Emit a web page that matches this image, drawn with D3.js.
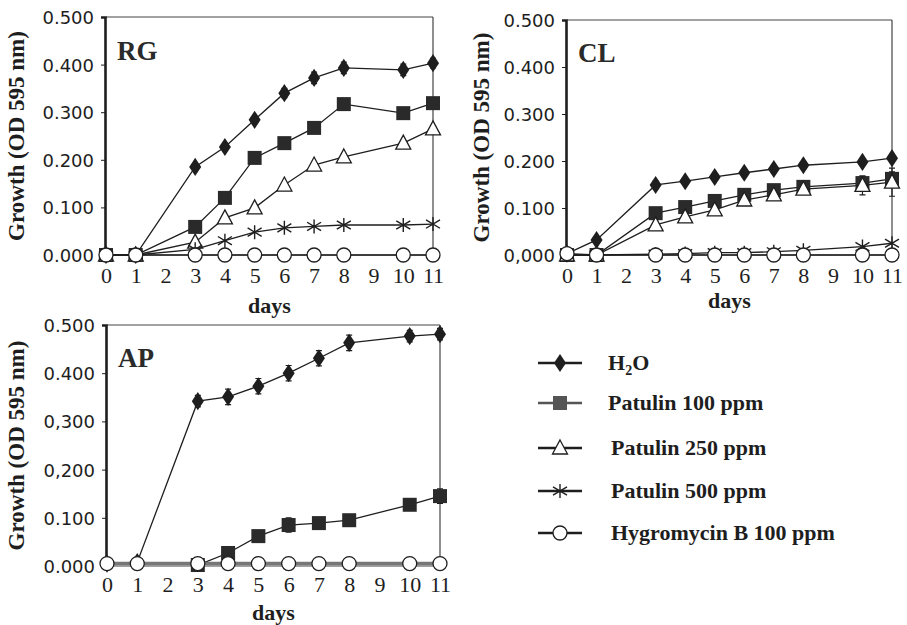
<!DOCTYPE html>
<html>
<head>
<meta charset="utf-8">
<script src="https://cdn.jsdelivr.net/npm/d3@7"></script>
<style>
  body { margin: 0; background: #fff; }
  svg { display: block; }
</style>
</head>
<body>
<script>
// sampling days (no reading on day 2 or 9)
var days = [0, 1, 3, 4, 5, 6, 7, 8, 10, 11];
var xTicks = [0, 1, 2, 3, 4, 5, 6, 7, 8, 9, 10, 11];
var yTicks = [0, 0.1, 0.2, 0.3, 0.4, 0.5];
var rgYLabels = ['0.000', '0.100', '0.200', '0.300', '0.400', '0.500'];
var clYLabels = ['0,000', '0.100', '0.200', '0.300', '0.400', '0.500'];
var apYLabels = ['0.000', '0.100', '0,200', '0,300', '0.400', '0.500'];
var seriesNames = ['H2O', 'Patulin 100 ppm', 'Patulin 250 ppm', 'Patulin 500 ppm', 'Hygromycin B 100 ppm'];

// RG
var rgH2O    = [0, 0, 0.185, 0.227, 0.284, 0.340, 0.372, 0.393, 0.389, 0.403];
var rgPat100 = [0, 0, 0.059, 0.120, 0.204, 0.235, 0.267, 0.317, 0.298, 0.319];
var rgPat250 = [0, 0, 0.027, 0.078, 0.099, 0.147, 0.189, 0.206, 0.235, 0.265];
var rgPat500 = [0, 0, 0.012, 0.030, 0.048, 0.057, 0.060, 0.063, 0.063, 0.065];
var rgHyg    = [0, 0, 0, 0, 0, 0, 0, 0, 0, 0];
var rgH2OErr = [0, 0, 0.005, 0.005, 0.006, 0.010, 0.012, 0.012, 0.012, 0.010];

// CL
var clH2O    = [0.003, 0.032, 0.149, 0.157, 0.166, 0.175, 0.183, 0.191, 0.198, 0.206];
var clPat100 = [0, 0, 0.089, 0.102, 0.115, 0.128, 0.138, 0.145, 0.153, 0.162];
var clPat250 = [0, 0, 0.064, 0.081, 0.096, 0.117, 0.128, 0.140, 0.148, 0.155];
var clPat500 = [0, 0, 0.002, 0.003, 0.005, 0.005, 0.007, 0.010, 0.018, 0.025];
var clHyg    = [0.003, 0, 0, 0, 0, 0, 0, 0, 0, 0];
var clH2OErr    = [0, 0.004, 0.008, 0.006, 0.006, 0.006, 0.006, 0.006, 0.006, 0.008];
var clPat100Err = [0, 0, 0, 0, 0, 0, 0, 0, 0.015, 0.015];
var clPat250Err = [0, 0, 0, 0, 0, 0, 0, 0, 0.020, 0.030];

// AP
var apH2O    = [0.005, 0.008, 0.342, 0.351, 0.373, 0.400, 0.431, 0.463, 0.477, 0.481];
var apPat100 = [null, null, 0.002, 0.027, 0.062, 0.085, 0.089, 0.095, 0.127, 0.145];
var apHyg    = [0.005, 0.005, 0.005, 0.005, 0.005, 0.005, 0.005, 0.005, 0.005, 0.005];
var apH2OErr    = [0, 0, 0.012, 0.016, 0.016, 0.016, 0.016, 0.016, 0.012, 0.012];
var apPat100Err = [0, 0, 0, 0.012, 0.010, 0.015, 0, 0, 0.008, 0.015];

var serif = "'Liberation Serif', 'Times New Roman', serif";
var sans = "'DejaVu Sans', sans-serif";
var ink = '#1e1e1e';

var svg = d3.select('body').append('svg').attr('width', 907).attr('height', 625);

// marker shapes, one per series (index matches seriesNames)
function marker(g, kind, x, y, legend) {
  if (kind === 0) {
    g.append('path').attr('d', d3.symbol(d3.symbolDiamond, 95)()).attr('transform', 'translate(' + x + ',' + y + ') scale(1.15,1)')
      .attr('fill', ink);
  } else if (kind === 1) {
    g.append('rect').attr('x', x - 7).attr('y', y - 7).attr('width', 14).attr('height', 14)
      .attr('fill', legend ? '#555' : '#2a2a2a');
  } else if (kind === 2) {
    g.append('path').attr('d', 'M' + x + ',' + (y - 8) + 'L' + (x + 7.5) + ',' + (y + 6) + 'L' + (x - 7.5) + ',' + (y + 6) + 'Z')
      .attr('fill', '#fff').attr('stroke', ink).attr('stroke-width', 1.3);
  } else if (kind === 3) {
    var s = 7;
    g.append('path').attr('d', 'M' + x + ',' + (y - s) + 'V' + (y + s) +
      'M' + (x - s) + ',' + (y - s * 0.6) + 'L' + (x + s) + ',' + (y + s * 0.6) +
      'M' + (x - s) + ',' + (y + s * 0.6) + 'L' + (x + s) + ',' + (y - s * 0.6))
      .attr('stroke', ink).attr('stroke-width', 1.4).attr('fill', 'none');
  } else {
    g.append('circle').attr('cx', x).attr('cy', y).attr('r', 7)
      .attr('fill', '#fff').attr('stroke', ink).attr('stroke-width', 1.3);
  }
}

function panel(opt) {
  var x = d3.scaleLinear().domain([0, 11]).range([opt.x0, opt.x1]);
  var y = d3.scaleLinear().domain([0, 0.5]).range([opt.y0, opt.y1]);
  var g = svg.append('g');

  // plot frame (top / right thin, left axis heavy)
  g.append('line').attr('x1', x(0)).attr('x2', x(11)).attr('y1', y(0.5)).attr('y2', y(0.5))
    .attr('stroke', '#444').attr('stroke-width', 1.2);
  g.append('line').attr('x1', x(11)).attr('x2', x(11)).attr('y1', y(0.5)).attr('y2', y(0))
    .attr('stroke', '#444').attr('stroke-width', 1.2);
  g.append('line').attr('x1', x(0)).attr('x2', x(11)).attr('y1', y(0)).attr('y2', y(0))
    .attr('stroke', '#444').attr('stroke-width', 1);

  var yAxis = d3.axisLeft(y).tickValues(yTicks).tickSize(4).tickPadding(7)
    .tickFormat(function (d, i) { return opt.yLabels[i]; });
  var ya = g.append('g').attr('transform', 'translate(' + (x(0) - 1) + ',0)').call(yAxis);
  ya.select('.domain').attr('stroke', ink).attr('stroke-width', 2.6);
  ya.selectAll('.tick line').attr('stroke', ink);
  ya.selectAll('.tick text').attr('font-family', sans).attr('font-size', 18).attr('fill', ink)
    .attr('dy', '0.36em');

  var xAxis = d3.axisBottom(x).tickValues(xTicks).tickSize(0).tickPadding(opt.xPad);
  var xa = g.append('g').attr('transform', 'translate(0,' + y(0) + ')').call(xAxis);
  xa.select('.domain').remove();
  xa.selectAll('.tick text').attr('font-family', serif).attr('font-size', 22).attr('fill', ink);

  g.append('text').attr('x', (x(0) + x(11)) / 2).attr('y', opt.daysY).attr('text-anchor', 'middle')
    .attr('font-family', serif).attr('font-weight', 'bold').attr('font-size', 22).attr('fill', ink).text('days');

  g.append('text').attr('transform', 'translate(' + opt.titleX + ',' + (y(0) + y(0.5)) / 2 + ') rotate(-90)')
    .attr('text-anchor', 'middle').attr('font-family', serif).attr('font-weight', 'bold')
    .attr('font-size', 23).attr('fill', ink).text('Growth (OD 595 nm)');

  g.append('text').attr('x', x(0) + 11).attr('y', opt.labelY).attr('font-family', serif)
    .attr('font-weight', 'bold').attr('font-size', 27).attr('fill', '#2a2a2a').text(opt.name);

  opt.series.forEach(function (s) {
    var pts = days.map(function (d, i) { return { d: d, v: s.values[i], e: s.err ? s.err[i] : 0 }; })
      .filter(function (p) { return p.v !== null; });
    var line = d3.line().x(function (p) { return x(p.d); }).y(function (p) { return y(p.v); });
    g.append('path').datum(pts).attr('d', line).attr('fill', 'none')
      .attr('stroke', s.stroke || ink).attr('stroke-width', s.width || 1.3);
    pts.forEach(function (p) {
      if (p.e > 0) {
        g.append('path').attr('d', 'M' + x(p.d) + ',' + y(p.v - p.e) + 'V' + y(p.v + p.e) +
          'M' + (x(p.d) - 3) + ',' + y(p.v + p.e) + 'h6M' + (x(p.d) - 3) + ',' + y(p.v - p.e) + 'h6')
          .attr('stroke', ink).attr('stroke-width', 1.2);
      }
      marker(g, s.kind, x(p.d), y(p.v), false);
    });
  });
}

panel({
  name: 'RG', x0: 106, x1: 433, y0: 255, y1: 17, yLabels: rgYLabels, xPad: 12,
  daysY: 313, titleX: 24, labelY: 60,
  series: [
    { kind: 0, values: rgH2O, err: rgH2OErr },
    { kind: 1, values: rgPat100 },
    { kind: 2, values: rgPat250 },
    { kind: 3, values: rgPat500 },
    { kind: 4, values: rgHyg }
  ]
});

panel({
  name: 'CL', x0: 567, x1: 892, y0: 255, y1: 20, yLabels: clYLabels, xPad: 12,
  daysY: 308, titleX: 489, labelY: 62,
  series: [
    { kind: 0, values: clH2O, err: clH2OErr },
    { kind: 1, values: clPat100, err: clPat100Err },
    { kind: 2, values: clPat250, err: clPat250Err },
    { kind: 3, values: clPat500 },
    { kind: 4, values: clHyg }
  ]
});

panel({
  name: 'AP', x0: 107, x1: 440, y0: 566, y1: 325, yLabels: apYLabels, xPad: 10,
  daysY: 620, titleX: 24, labelY: 367,
  series: [
    { kind: 0, values: apH2O, err: apH2OErr },
    { kind: 1, values: apPat100, err: apPat100Err },
    { kind: 4, values: apHyg, stroke: '#777', width: 3.5 }
  ]
});

// legend
var legendY = [363, 403, 448, 491, 533];
var lg = svg.append('g');
seriesNames.forEach(function (name, i) {
  var ly = legendY[i];
  lg.append('line').attr('x1', 538).attr('x2', 582).attr('y1', ly).attr('y2', ly)
    .attr('stroke', i === 1 ? '#555' : ink).attr('stroke-width', 2.6);
  marker(lg, i, 560, ly, true);
  var t = lg.append('text').attr('x', i < 2 ? 608 : 611).attr('y', ly + 7).attr('font-family', serif)
    .attr('font-weight', 'bold').attr('font-size', 22).attr('fill', ink);
  if (name === 'H2O') {
    t.append('tspan').text('H');
    t.append('tspan').attr('font-size', 14).attr('dy', 5).text('2');
    t.append('tspan').attr('dy', -5).text('O');
  } else {
    t.text(name);
  }
});
</script>
</body>
</html>
